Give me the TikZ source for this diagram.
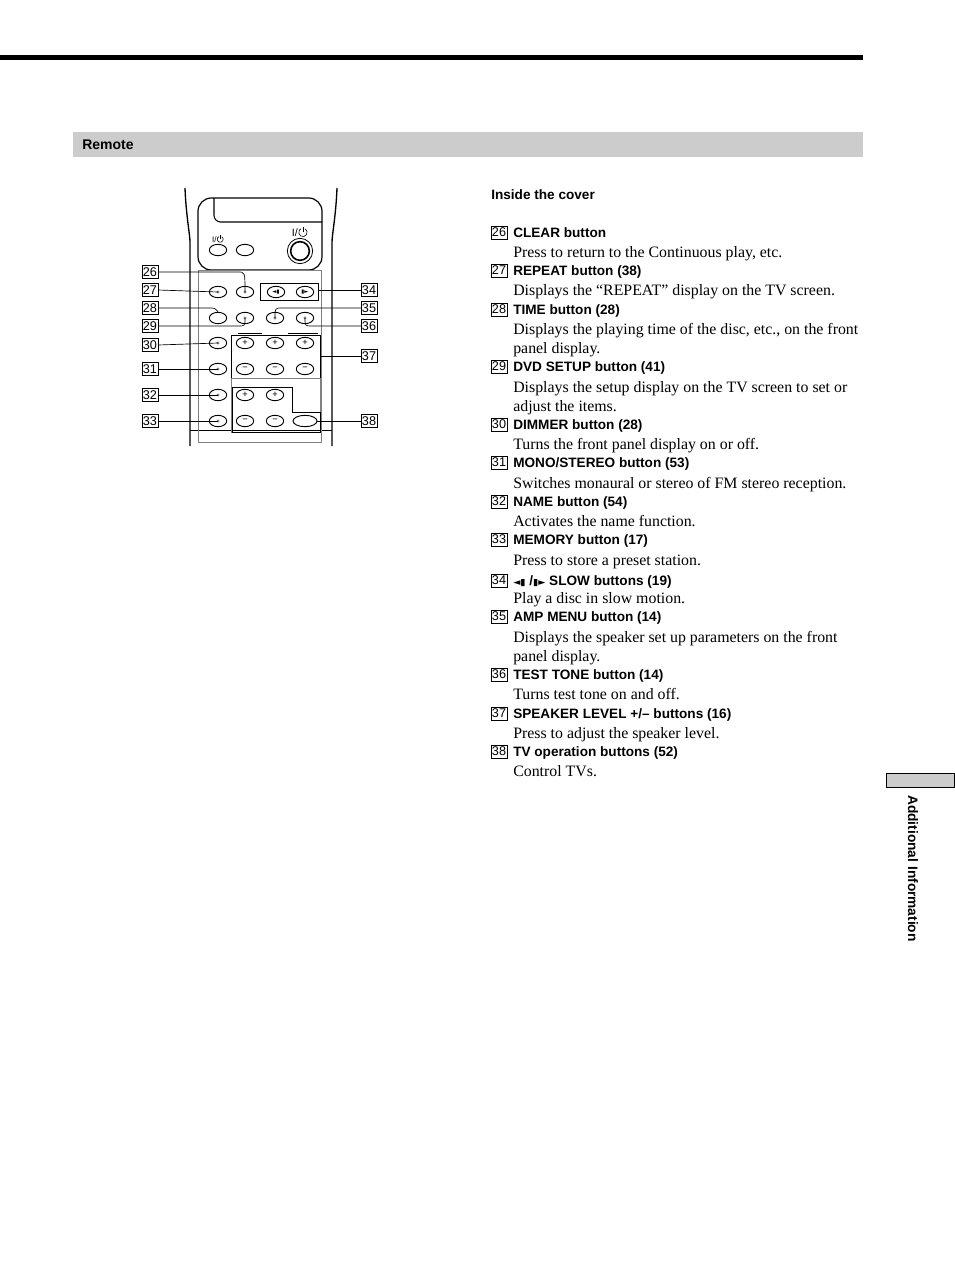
\documentclass[tikz,border=0pt]{standalone}
\usetikzlibrary{shapes.geometric}
\usepackage{fontspec}
\setmainfont{Liberation Serif}
\setsansfont{Liberation Sans}
\newfontfamily\symf{DejaVu Sans}
\newcommand{\pwrsym}[1]{\tikz[baseline=0pt,x=#1,y=#1,line width=0.45pt]{\draw (60:0.45)+(0,0.45) arc (60:-240:0.45); \draw (0,0.45)--(0,1.05);}}
\begin{document}
\begin{tikzpicture}[x=0.75pt,y=-0.75pt,
  btn/.style={draw,line width=0.7pt,ellipse,minimum width=13pt,minimum height=8.5pt,inner sep=0pt},
  dotc/.style={fill=gray,circle,inner sep=0.9pt},
  num/.style={draw,line width=0.4pt,inner sep=0.6pt,font=\sffamily\fontsize{9.5}{10}\selectfont,minimum height=9.5pt,minimum width=11pt},
  ttl/.style={anchor=base west,font=\sffamily\bfseries\fontsize{10.2}{12}\selectfont,inner sep=0pt},
  dsc/.style={anchor=base west,font=\fontsize{11.9}{12}\selectfont,inner sep=0pt},
  lead/.style={line width=0.5pt},
  sym/.style={font=\sffamily\fontsize{6}{6}\selectfont,inner sep=0pt}]
\useasboundingbox (0,0) rectangle (954,1274);
\fill (0,55) rectangle (863,60);
\fill[gray!40] (73,132) rectangle (863,157);
\node[anchor=base west,font=\sffamily\bfseries\fontsize{10.5}{12}\selectfont,inner sep=0pt] (rem) at (82,149) {Remote};
\draw[fill=gray!40,line width=0.6pt] (886,773) rectangle (954,787);
\node[rotate=-90,anchor=base west,font=\sffamily\bfseries\fontsize{10.3}{12}\selectfont,inner sep=0pt] (tab) at (908,795) {Additional Information};
% remote body
\draw[line width=1pt] (185,188) .. controls (186,215) and (190,235) .. (190,242) -- (190,446);
\draw[line width=1pt] (337,188) .. controls (336,215) and (332,235) .. (332,242) -- (332,446);
\draw[line width=0.6pt] (190,430) -- (332,430);
\draw[line width=0.9pt,rounded corners=10pt] (198,270) -- (198,198) -- (322,198) -- (322,270) -- cycle;
\draw[line width=0.8pt,rounded corners=5pt] (214,198) -- (214,222) -- (322,222);
\node[btn] (p1) at (218,250) {};
\node[btn] (p2) at (245,250) {};
\node[sym] (pl1) at (218,239) {I/\pwrsym{5pt}};
\node[draw,circle,line width=0.6pt,minimum size=19pt,inner sep=0pt] (pw) at (300,251) {};
\node[draw,circle,line width=1.2pt,minimum size=14pt,inner sep=0pt] (pwi) at (300,251) {};
\node[sym,font=\sffamily\fontsize{8}{8}\selectfont] (pl2) at (300,232) {I/\pwrsym{7pt}};
% panel
\draw[line width=0.4pt,gray] (198,270) rectangle (321,442);
\draw[line width=0.6pt] (260,283) rectangle (318,300);
\draw[line width=0.6pt] (231,335) rectangle (320,378);
\draw[line width=0.4pt,gray] (231,378) rectangle (320,432);
\draw[line width=0.6pt] (232,387) -- (292,387) -- (292,412) -- (320,412) -- (320,432) -- (232,432) -- cycle;
\draw[line width=0.6pt] (238,333) -- (262,333) (288,333) -- (318,333);
\foreach \n/\x/\y in {b27/218/292,b26/245/292,b28/218/318,b29/245/318,b35/275/318,b36/305/318,
  b30/218/343,b31/218/369,b32/218/395,b33/218/421}{\node[btn] (\n) at (\x,\y) {};}
\foreach \n in {b27,b26,b29,b35,b36,b30,b31,b32,b33}{\node[dotc] at (\n) {};}
\node[btn] (s1) at (276,292) {\symf\fontsize{4}{4}\selectfont ◄▮};
\node[btn] (s2) at (305,292) {\symf\fontsize{4}{4}\selectfont ▮►};
\foreach \n/\x/\y/\t in {sp1/245/343/+,sp2/275/343/+,sp3/305/343/+,sm1/245/369/\textminus,sm2/275/369/\textminus,sm3/305/369/\textminus,
  tp1/245/395/+,tp2/275/395/+,tm1/245/421/\textminus,tm2/275/421/\textminus}{\node[btn,font=\sffamily\fontsize{7}{7}\selectfont] (\n) at (\x,\y) {\t};}
\node[btn,minimum width=18pt] (tv) at (305,421) {};
% labels
\foreach \n/\y in {26/272,27/290,28/308,29/326,30/345,31/369,32/395,33/421}{\node[num] (L\n) at (150,\y) {\n};}
\foreach \n/\y in {34/290,35/308,36/326,37/356,38/421}{\node[num] (L\n) at (369,\y) {\n};}
\draw[lead] (L26.east) -- (238,272) .. controls (245,272) .. (b26.center);
\draw[lead] (L27.east) -- (b27.center);
\draw[lead] (L28.east) -- (208,308) .. controls (215,308) .. (b28.north);
\draw[lead] (L29.east) -- (238,326) .. controls (245,326) .. (b29.center);
\draw[lead] (L30.east) -- (b30.center);
\draw[lead] (L31.east) -- (b31.center);
\draw[lead] (L32.east) -- (b32.center);
\draw[lead] (L33.east) -- (b33.center);
\draw[lead] (L34.west) -- (318,290);
\draw[lead] (L35.west) -- (282,308) .. controls (275,308) .. (b35.center);
\draw[lead] (L36.west) -- (312,326) .. controls (305,326) .. (b36.center);
\draw[lead] (L37.west) -- (320,356);
\draw[lead] (L38.west) -- (tv.east);
% text column
\node[ttl] (hd) at (491,199) {Inside the cover};
\newcommand{\itm}[4]{\node[num] (N#1) at (499,#2-4.5) {#1};\node[ttl] (T#1) at (513,#2) {#3};}
\itm{26}{237}{CLEAR button}{}
\node[dsc] (D26) at (513,257) {Press to return to the Continuous play, etc.};
\itm{27}{275}{REPEAT button (38)}{}
\node[dsc] (D27) at (513,295) {Displays the “REPEAT” display on the TV screen.};
\itm{28}{314}{TIME button (28)}{}
\node[dsc] (D28) at (513,334) {Displays the playing time of the disc, etc., on the front};
\node[dsc] (D28b) at (513,353) {panel display.};
\itm{29}{371}{DVD SETUP button (41)}{}
\node[dsc] (D29) at (513,392) {Displays the setup display on the TV screen to set or};
\node[dsc] (D29b) at (513,411) {adjust the items.};
\itm{30}{429}{DIMMER button (28)}{}
\node[dsc] (D30) at (513,449) {Turns the front panel display on or off.};
\itm{31}{467}{MONO/STEREO button (53)}{}
\node[dsc] (D31) at (513,488) {Switches monaural or stereo of FM stereo reception.};
\itm{32}{506}{NAME button (54)}{}
\node[dsc] (D32) at (513,526) {Activates the name function.};
\itm{33}{544}{MEMORY button (17)}{}
\node[dsc] (D33) at (513,565) {Press to store a preset station.};
\itm{34}{585}{{\symf\fontsize{7}{8}\selectfont ◄▮} /{\symf\fontsize{7}{8}\selectfont ▮►} SLOW buttons (19)}{}
\node[dsc] (D34) at (513,603) {Play a disc in slow motion.};
\itm{35}{621}{AMP MENU button (14)}{}
\node[dsc] (D35) at (513,642) {Displays the speaker set up parameters on the front};
\node[dsc] (D35b) at (513,661) {panel display.};
\itm{36}{679}{TEST TONE button (14)}{}
\node[dsc] (D36) at (513,699) {Turns test tone on and off.};
\itm{37}{718}{SPEAKER LEVEL +/– buttons (16)}{}
\node[dsc] (D37) at (513,738) {Press to adjust the speaker level.};
\itm{38}{756}{TV operation buttons (52)}{}
\node[dsc] (D38) at (513,776) {Control TVs.};
\end{tikzpicture}
\end{document}
